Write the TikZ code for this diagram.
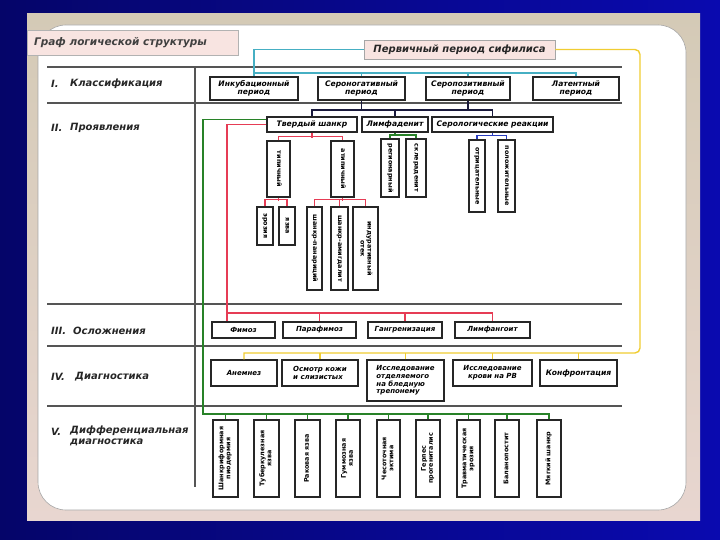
\documentclass[tikz,border=0pt]{standalone}
\usepackage{fontspec}
\usepackage{graphicx}
\setmainfont{DejaVu Sans}
\usetikzlibrary{shadows}
\definecolor{tealc}{RGB}{70,175,195}
\definecolor{yelc}{RGB}{240,205,50}
\definecolor{grnc}{RGB}{40,130,40}
\definecolor{redc}{RGB}{230,60,85}
\definecolor{bluc}{RGB}{40,60,190}
\definecolor{drkc}{RGB}{25,25,60}
\definecolor{gridc}{RGB}{85,85,85}
\definecolor{pinkc}{RGB}{248,228,225}
\definecolor{bgl}{RGB}{5,5,105}
\definecolor{bgr}{RGB}{10,10,175}
\definecolor{tant}{RGB}{212,202,182}
\definecolor{tanb}{RGB}{232,214,208}
\newcommand{\vtxt}[2]{\rotatebox{#1}{\begin{tabular}{@{}c@{}}#2\end{tabular}}}
\begin{document}
\begin{tikzpicture}[x=1pt,y=-1pt,
  box/.style={draw=black!85, line width=1.1pt, fill=white, inner sep=1pt, align=center, text=black,
    font=\fontsize{7}{7.8}\selectfont\bfseries\itshape,
    drop shadow={shadow xshift=1.3pt, shadow yshift=-1.3pt, opacity=0.3}},
  bigf/.style={font=\fontsize{7.6}{8.4}\selectfont\bfseries\itshape},
  vfont/.style={font=\fontsize{6.4}{7}\selectfont\bfseries},
  lbl/.style={anchor=west, inner sep=0pt, font=\fontsize{10}{11}\selectfont\bfseries\itshape, text=black!85},
  tline/.style={draw=gridc, line width=1.8pt},
  conn/.style={line width=1.4pt},
]
\useasboundingbox (0,0) rectangle (720,540);
% background
\shade[left color=bgl, right color=bgr] (0,0) rectangle (720,540);
\shade[top color=tant, bottom color=tanb] (27,14) rectangle (700,520);
\draw[fill=white, draw=gray!70, line width=0.6pt, rounded corners=28pt] (38,25) rectangle (686,510);
% title tab
\node[draw=gray!60, fill=pinkc, minimum width=211pt, minimum height=25pt, inner sep=0pt] (tab) at (132.5,42.5) {};
\node[anchor=west, inner sep=0pt, font=\fontsize{10.5}{12}\selectfont\bfseries\itshape, text=black!75] (tabt) at (34,42.5) {Граф логической структуры};
% table lines
\draw[tline] (47,67) -- (622,67);
\draw[tline] (47,103) -- (622,103);
\draw[tline] (47,304) -- (622,304);
\draw[tline] (47,346) -- (622,346);
\draw[tline] (47,406) -- (622,406);
\draw[tline] (195,67) -- (195,487);
% row labels
\node[lbl] (n1) at (51,84) {I.};
\node[lbl] (l1) at (70,84) {Классификация};
\node[lbl] (n2) at (51,128) {II.};
\node[lbl] (l2) at (70,128) {Проявления};
\node[lbl] (n3) at (51,331) {III.};
\node[lbl] (l3) at (73,331) {Осложнения};
\node[lbl] (n4) at (51,377) {IV.};
\node[lbl] (l4) at (75,377) {Диагностика};
\node[lbl] (n5) at (51,432) {V.};
\node[lbl, align=left, anchor=north west] (l5) at (70,426) {Дифференциальная\\диагностика};
% top node
\node[draw=gray!70, fill=pinkc, line width=0.8pt, minimum width=191pt, minimum height=19pt, inner sep=0pt,
  font=\fontsize{10}{12}\selectfont\bfseries\itshape, text=black!85] (prim) at (459.5,49.5) {Первичный период сифилиса};
% row I
\node[box, bigf, minimum width=88pt, minimum height=23pt] (inc) at (254,88.5) {Инкубационный\\период};
\node[box, bigf, minimum width=87pt, minimum height=23pt] (sneg) at (361.5,88.5) {Сероногативный\\период};
\node[box, bigf, minimum width=84pt, minimum height=23pt] (spos) at (468,88.5) {Серопозитивный\\период};
\node[box, bigf, minimum width=86pt, minimum height=23pt] (lat) at (576,88.5) {Латентный\\период};
% row II
\node[box, bigf, minimum width=90pt, minimum height=15pt] (ts) at (312,124.5) {Твердый шанкр};
\node[box, bigf, minimum width=66pt, minimum height=15pt] (lim) at (395,124.5) {Лимфаденит};
\node[box, bigf, minimum width=121pt, minimum height=15pt] (ser) at (492.5,124.5) {Серологические реакции};
% row II sub
\node[box, vfont, minimum width=23pt, minimum height=56pt] (typ) at (278.5,169) {\vtxt{-90}{типичный}};
\node[box, vfont, minimum width=23pt, minimum height=56pt] (atyp) at (342.5,169) {\vtxt{-90}{атипичный}};
\node[box, vfont, minimum width=18pt, minimum height=58pt] (reg) at (390,168) {\vtxt{-90}{регионарный}};
\node[box, vfont, minimum width=20pt, minimum height=58pt] (skl) at (416,168) {\vtxt{-90}{склераденит}};
\node[box, vfont, minimum width=16pt, minimum height=72pt] (otr) at (477,176) {\vtxt{-90}{отрицательные}};
\node[box, vfont, minimum width=17pt, minimum height=72pt] (pol) at (506.5,176) {\vtxt{-90}{положительные}};
\node[box, vfont, minimum width=16pt, minimum height=38pt] (ero) at (265,226) {\vtxt{-90}{эрозия}};
\node[box, vfont, minimum width=16pt, minimum height=38pt] (yaz) at (287,226) {\vtxt{-90}{язва}};
\node[box, vfont, minimum width=15pt, minimum height=83pt] (pan) at (314.5,248.5) {\vtxt{-90}{шанкр-панариций}};
\node[box, vfont, minimum width=17pt, minimum height=83pt] (ami) at (339.5,248.5) {\vtxt{-90}{шанкр-амигдалит}};
\node[box, vfont, minimum width=25pt, minimum height=83pt] (ind) at (365.5,248.5) {\vtxt{-90}{индуративный\\отек}};
% row III
\node[box, minimum width=63pt, minimum height=16pt] (phim) at (243.5,330) {Фимоз};
\node[box, minimum width=73pt, minimum height=16pt] (par) at (319.5,330) {Парафимоз};
\node[box, minimum width=74pt, minimum height=16pt] (gan) at (405,330) {Гангренизация};
\node[box, minimum width=75pt, minimum height=16pt] (lfa) at (492.5,330) {Лимфангоит};
% row IV
\node[box, minimum width=66pt, minimum height=26pt] (anam) at (244,373) {Анемнез};
\node[box, minimum width=76pt, minimum height=26pt, align=left] (osm) at (320,373) {Осмотр кожи\\и слизистых};
\node[box, minimum width=77pt, minimum height=41pt, align=left] (isl) at (405.5,380.5) {Исследование\\отделяемого\\на бледную\\трепонему};
\node[box, minimum width=79pt, minimum height=26pt] (krv) at (492.5,373) {Исследование\\крови на РВ};
\node[box, bigf, minimum width=77pt, minimum height=26pt] (kon) at (578.5,373) {Конфронтация};
% row V
\node[box, vfont, minimum width=25pt, minimum height=77pt] (d1) at (225.5,458.5) {\vtxt{90}{Шанкриформная\\пиодермия}};
\node[box, vfont, minimum width=25pt, minimum height=77pt] (d2) at (266.5,458.5) {\vtxt{90}{Туберкулезная\\язва}};
\node[box, vfont, minimum width=25pt, minimum height=77pt] (d3) at (307.5,458.5) {\vtxt{90}{Раковая язва}};
\node[box, vfont, minimum width=24pt, minimum height=77pt] (d4) at (348,458.5) {\vtxt{90}{Гуммозная\\язва}};
\node[box, vfont, minimum width=23pt, minimum height=77pt] (d5) at (388.5,458.5) {\vtxt{90}{Чесоточная\\эктима}};
\node[box, vfont, minimum width=24pt, minimum height=77pt] (d6) at (428,458.5) {\vtxt{90}{Герпес\\прогениталис}};
\node[box, vfont, minimum width=23pt, minimum height=77pt] (d7) at (468.5,458.5) {\vtxt{90}{Травматическая\\эрозия}};
\node[box, vfont, minimum width=24pt, minimum height=77pt] (d8) at (507,458.5) {\vtxt{90}{Баланопостит}};
\node[box, vfont, minimum width=24pt, minimum height=77pt] (d9) at (549,458.5) {\vtxt{90}{Мягкий шанкр}};
% connectors: teal
\coordinate (tbus) at (254,73);
\draw[conn, tealc] (prim.west) -| (inc.north);
\draw[conn, tealc] (inc.north |- tbus) -| (lat.north);
\draw[conn, tealc] (sneg.north |- tbus) -- (sneg.north);
\draw[conn, tealc] (spos.north |- tbus) -- (spos.north);
% dark
\coordinate (dbus) at (312,110);
\draw[conn, drkc] (sneg.south) -- (sneg.south |- dbus);
\draw[conn, drkc] (spos.south) -- (spos.south |- dbus);
\draw[conn, drkc] (ts.north) |- (ser.north |- dbus) -- (ser.north);
\draw[conn, drkc] (lim.north) -- (lim.north |- dbus);
% sub connectors
\draw[conn, redc] (typ.north) -- ++(0,-4) -| (atyp.north);
\draw[conn, redc] (ts.south) -- ++(0,5);
\draw[conn, grnc] (reg.north) -- ++(0,-3.5) -| (skl.north);
\draw[conn, grnc] (lim.south) -- ++(0,3.5);
\draw[conn, bluc] (otr.north) -- ++(0,-4) -| (pol.north);
\draw[conn, bluc] (ser.south) -- ++(0,3.5);
\draw[conn, redc] (ero.north) -- ++(0,-7) -| (yaz.north);
\draw[conn, redc] (typ.south) -- ++(0,3);
\draw[conn, redc] (pan.north) -- ++(0,-7) -| (ind.north);
\draw[conn, redc] (ami.north) -- ++(0,-7);
\draw[conn, redc] (atyp.south) -- ++(0,3);
% green long
\coordinate (gl) at (203,414);
\draw[conn, grnc] ([yshift=5pt]ts.west) -| (gl) -| (d9.north);
\foreach \n in {d1,d2,d3,d4,d5,d6,d7,d8} \draw[conn, grnc] (\n.north) -- (\n.north |- gl);
% red long
\coordinate (rl) at (227,313);
\draw[conn, redc] (ts.west) -| (rl) -| (lfa.north);
\draw[conn, redc] (rl) -- (rl |- phim.north);
\draw[conn, redc] (par.north) -- (par.north |- rl);
\draw[conn, redc] (gan.north) -- (gan.north |- rl);
% yellow
\coordinate (yc) at (640,353);
\draw[conn, yelc] (prim.east) [rounded corners=5pt] -| (yc) [sharp corners] -| (anam.north);
\foreach \n in {osm,isl,krv,kon} \draw[conn, yelc] (\n.north) -- (\n.north |- yc);
\end{tikzpicture}
\end{document}
